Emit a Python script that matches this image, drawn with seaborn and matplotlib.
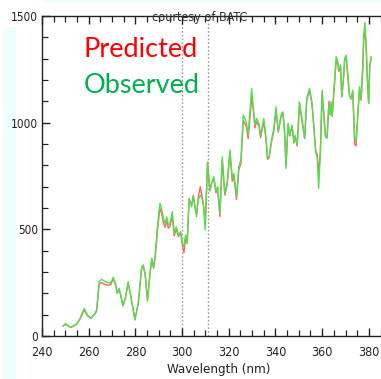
import matplotlib
matplotlib.use("Agg")
import matplotlib.pyplot as plt
import matplotlib.patches as mpatches
from matplotlib.ticker import MultipleLocator
import seaborn as sns
import pandas as pd

# ---- data ----
wavelength = [249.1, 250.1, 251.0, 252.4, 254.8, 256.3, 258.1, 259.5, 261.0, 262.7,
              263.4, 264.5, 265.5, 267.0, 268.4, 269.4, 270.5, 271.7, 272.2, 273.0,
              273.7, 274.7, 275.8, 276.9, 278.1, 279.8, 281.2, 282.7, 283.4, 284.2,
              285.2, 286.3, 287.0, 287.8, 288.5, 289.5, 290.5, 291.2, 292.0, 292.7,
              293.4, 294.1, 294.8, 295.8, 296.6, 297.5, 298.4, 299.4, 300.1, 300.8,
              301.5, 302.2, 303.0, 304.1, 304.8, 305.5, 306.2, 306.9, 307.8, 308.8,
              309.3, 309.9, 310.9, 311.9, 312.6, 313.6, 314.5, 315.2, 316.2, 317.2,
              318.3, 319.3, 320.5, 321.5, 322.2, 323.3, 324.3, 325.2, 326.2, 326.9,
              327.6, 328.3, 329.8, 330.5, 331.2, 331.9, 332.9, 333.6, 335.0, 335.9,
              336.6, 337.3, 338.3, 339.3, 340.2, 341.2, 342.4, 343.2, 343.9, 344.5,
              345.4, 346.1, 347.1, 347.9, 348.4, 349.3, 350.3, 351.3, 352.5, 353.4,
              354.6, 355.6, 356.4, 357.2, 357.9, 358.5, 359.2, 360.0, 360.7, 361.4,
              362.1, 362.9, 363.4, 363.8, 364.3, 365.3, 366.0, 366.7, 367.1, 367.9,
              368.4, 369.1, 369.6, 370.3, 371.0, 371.7, 372.4, 373.1, 373.9, 374.5,
              375.3, 376.0, 376.7, 377.4, 377.8, 378.3, 378.8, 379.3, 379.9, 380.4,
              381.0]

observed = [47, 59, 50, 40, 56, 83, 130, 98, 83, 106,
            122, 255, 266, 255, 250, 247, 275, 239, 200, 223,
            192, 141, 184, 255, 184, 75, 153, 325, 333, 290,
            164, 300, 365, 320, 380, 520, 622, 600, 551, 528,
            559, 520, 528, 583, 481, 512, 473, 489, 434, 420,
            473, 434, 645, 606, 653, 606, 559, 637, 660, 637,
            600, 497, 810, 684, 716, 747, 677, 700, 575, 840,
            669, 716, 872, 739, 762, 653, 794, 825, 1036, 1020,
            997, 942, 1160, 1075, 989, 1020, 997, 942, 1020, 934,
            833, 840, 919, 973, 1075, 958, 1036, 1051, 958, 786,
            997, 942, 989, 911, 942, 895, 1098, 1020, 927, 1114,
            1161, 1098, 989, 864, 833, 692, 848, 1153, 1036, 934,
            927, 1083, 1036, 1098, 1036, 1192, 1309, 1286, 1247, 1270,
            1122, 1208, 1302, 1317, 1223, 1130, 1114, 1153, 935, 911,
            1051, 1169, 1114, 1270, 1411, 1470, 1380, 1223, 1091, 1270,
            1310]

predicted = [47, 55, 48, 40, 54, 80, 122, 95, 83, 104,
             118, 245, 250, 242, 238, 240, 268, 232, 200, 220,
             192, 141, 182, 248, 182, 78, 150, 318, 325, 286,
             168, 296, 358, 318, 372, 500, 600, 575, 530, 510,
             540, 505, 512, 565, 470, 500, 466, 482, 430, 390,
             462, 436, 640, 612, 660, 612, 570, 650, 700, 640,
             600, 520, 815, 680, 712, 740, 672, 695, 560, 825,
             660, 705, 860, 725, 750, 640, 780, 808, 1010, 995,
             978, 925, 1120, 1060, 975, 1005, 985, 930, 1005, 925,
             828, 835, 910, 960, 1060, 955, 1030, 1045, 955, 800,
             990, 938, 982, 905, 935, 890, 1090, 1015, 925, 1105,
             1150, 1090, 985, 872, 850, 760, 860, 1140, 1040, 940,
             932, 1100, 1040, 1080, 1030, 1180, 1290, 1275, 1240, 1260,
             1120, 1200, 1290, 1300, 1215, 1128, 1110, 1145, 900, 890,
             1040, 1155, 1105, 1255, 1390, 1430, 1365, 1215, 1090, 1265,
             1300]

x_ticks = [240, 260, 280, 300, 320, 340, 360, 380]
y_ticks = [0, 500, 1000, 1500]
marker_lines = [300, 311]

df = pd.DataFrame({"Wavelength": wavelength * 2,
                   "Counts": predicted + observed,
                   "Series": ["Predicted"] * len(wavelength) + ["Observed"] * len(wavelength)})

# ---- figure ----
W, H = 381, 379
fig = plt.figure(figsize=(W / 100, H / 100), dpi=100)
fig.patch.set_facecolor("white")
# light cyan screenshot strips (behind everything)
fig.patches.append(mpatches.Rectangle((3 / W, 0), 13 / W, 1 - 27 / H, transform=fig.transFigure,
                                      facecolor="#ecfeff", edgecolor="none", zorder=-5))
fig.patches.append(mpatches.Rectangle((43 / W, 1 - 3 / H), 1, 3 / H, transform=fig.transFigure,
                                      facecolor="#ecfeff", edgecolor="none", zorder=-5))

ax = fig.add_axes([42 / W, (H - 336) / H, 339 / W, 320 / H])
ax.set_facecolor("white")
ax.patch.set_alpha(0.0)

sns.lineplot(data=df, x="Wavelength", y="Counts", hue="Series",
             palette={"Predicted": "#ff6464", "Observed": "#4fe04f"},
             linewidth=1.0, ax=ax, legend=False, sort=False, estimator=None)

for xv in marker_lines:
    ax.axvline(xv, color="#999999", linestyle=(0, (1.2, 1.5)), linewidth=1.0, zorder=0)

ax.set_xlim(240, 385.2)
ax.set_ylim(0, 1500)
ax.set_xticks(x_ticks)
ax.set_yticks(y_ticks)
ax.xaxis.set_minor_locator(MultipleLocator(5))
ax.yaxis.set_minor_locator(MultipleLocator(100))

ax.tick_params(axis="both", which="major", direction="in", length=6, width=1.0,
               colors="#222222", labelsize=9)
ax.tick_params(axis="y", which="major", labelsize=8.5)
ax.tick_params(axis="both", which="minor", direction="in", length=4, width=0.9, colors="#222222")
ax.tick_params(axis="x", which="both", top=True)
ax.tick_params(axis="x", which="major", pad=7)
ax.tick_params(axis="y", which="major", pad=3)
for lab in ax.get_xticklabels() + ax.get_yticklabels():
    lab.set_fontfamily("DejaVu Sans")
    lab.set_fontstretch("condensed")

for s in ["left", "bottom", "top"]:
    ax.spines[s].set_color("#222222")
    ax.spines[s].set_linewidth(1.0)
ax.spines["right"].set_visible(False)

ax.set_xlabel("Wavelength (nm)", fontfamily="DejaVu Sans", fontstretch="condensed",
              fontsize=9.5, color="#222222")
ax.xaxis.set_label_coords(0.52, -0.085)
ax.set_ylabel("")

fig.text(200 / W, 1 - 17 / H, "courtesy of BATC", ha="center", va="center",
         fontsize=9, fontfamily="DejaVu Sans", fontstretch="condensed", color="#333333")
fig.text(84 / W, 1 - 57 / H, "Predicted", ha="left", va="baseline",
         fontsize=19.5, fontfamily="Lato", color="#ff0000")
fig.text(84 / W, 1 - 93 / H, "Observed", ha="left", va="baseline",
         fontsize=19.5, fontfamily="Lato", color="#00b050")

fig.savefig("out.png", dpi=100)
